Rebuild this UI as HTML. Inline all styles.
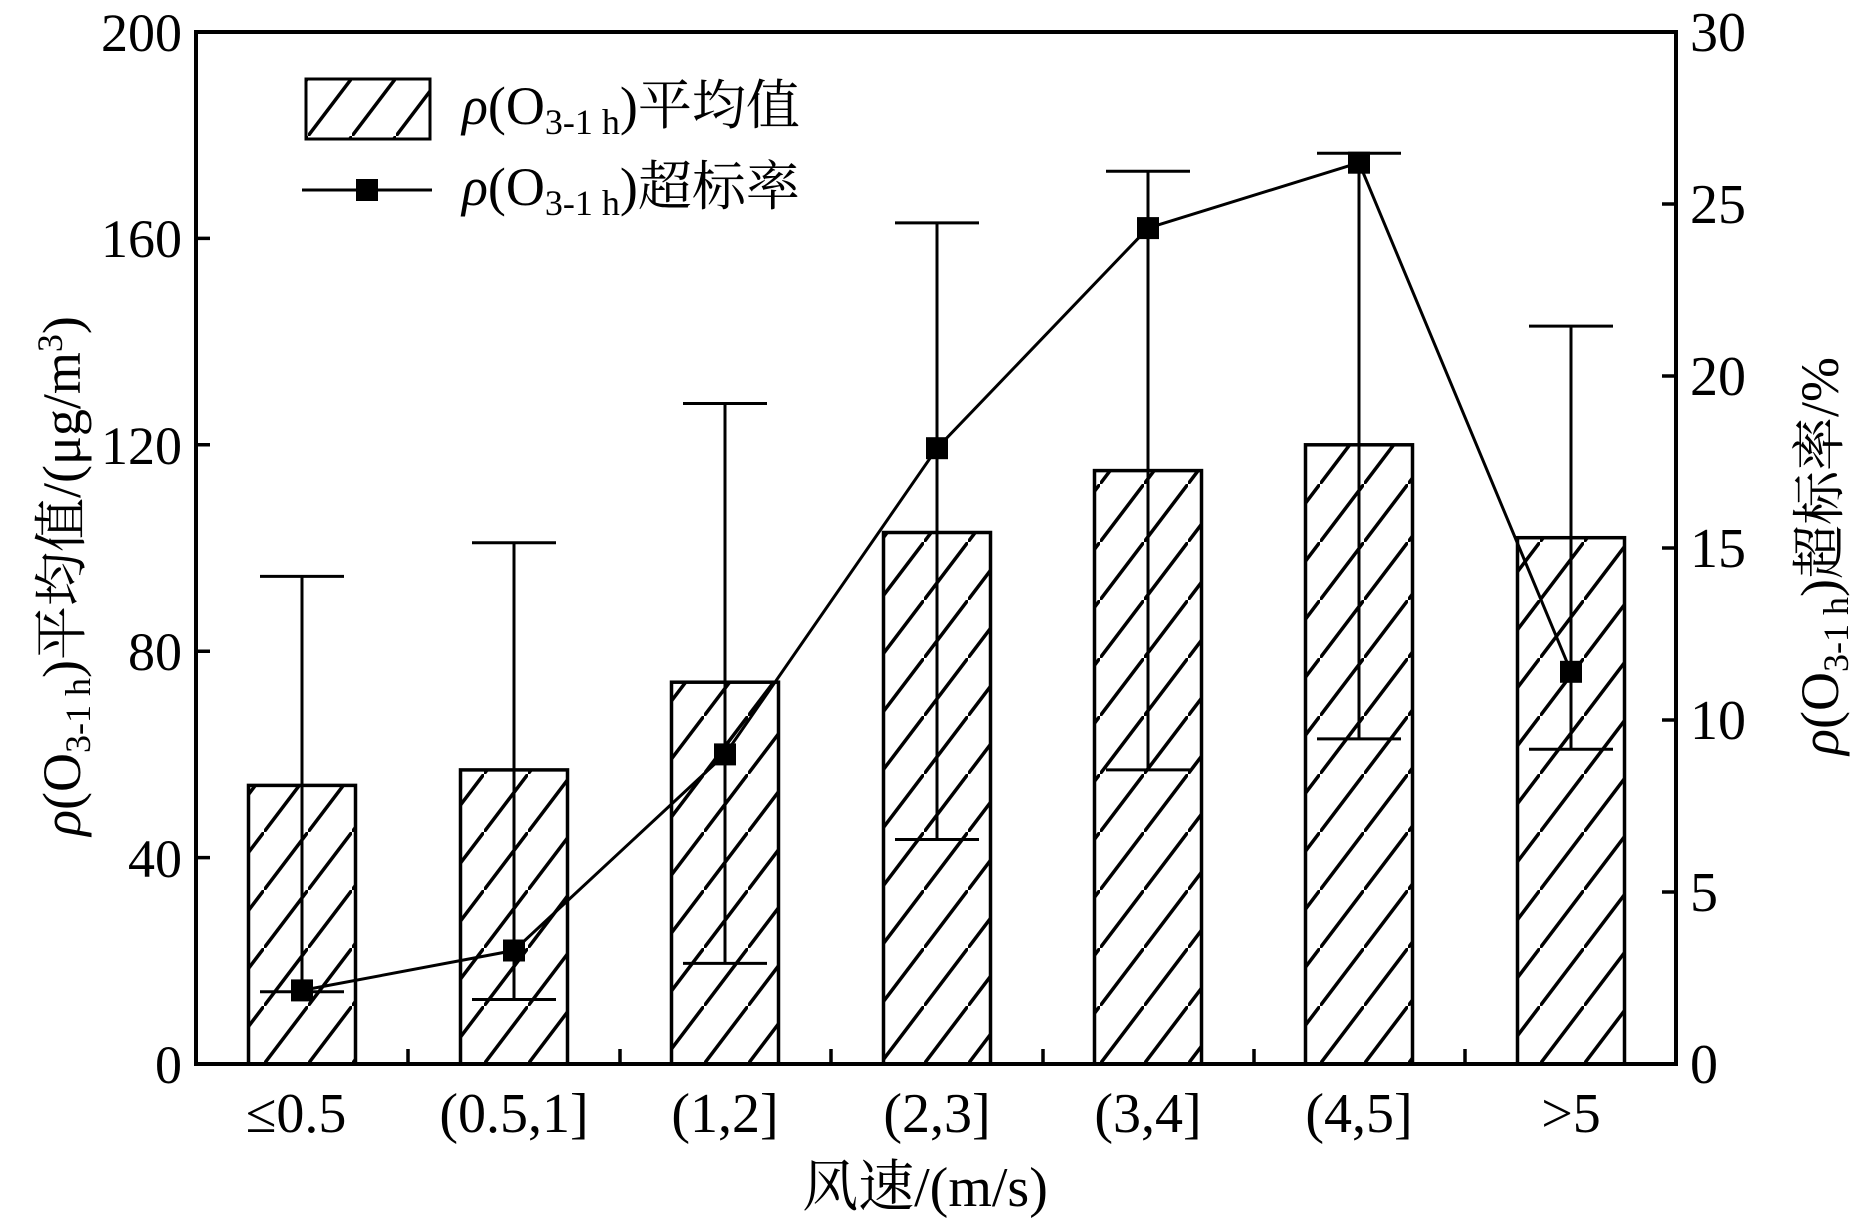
<!DOCTYPE html>
<html><head><meta charset="utf-8"><style>
body{margin:0;background:#fff}
svg text{font-family:"Liberation Serif","Noto Serif CJK SC","Noto Sans CJK SC",serif;fill:#000}
</style></head><body>
<svg width="1850" height="1221" viewBox="0 0 1850 1221" xmlns="http://www.w3.org/2000/svg">
<defs>
<pattern id="h" patternUnits="userSpaceOnUse" width="44" height="58" x="0" y="1064">
<line x1="-44" y1="116" x2="88" y2="-58" stroke="#000" stroke-width="3.5"/>
</pattern>
</defs>
<g stroke="#000" stroke-width="3.5">
<g fill="url(#h)">
<rect x="248.5" y="785.4" width="107" height="278.6"/>
<rect x="460.5" y="769.9" width="107" height="294.1"/>
<rect x="671.5" y="682.2" width="107" height="381.8"/>
<rect x="883.5" y="532.5" width="107" height="531.5"/>
<rect x="1094.5" y="470.6" width="107" height="593.4"/>
<rect x="1305.5" y="444.8" width="107" height="619.2"/>
<rect x="1517.5" y="537.7" width="107" height="526.3"/>
</g>
<g fill="none" stroke-width="3">
<path d="M302 576.4V991.8M260 576.4H344M260 991.8H344"/>
<path d="M514 542.8V999.5M472 542.8H556M472 999.5H556"/>
<path d="M725 403.5V963.4M683 403.5H767M683 963.4H767"/>
<path d="M937 222.9V839.5M895 222.9H979M895 839.5H979"/>
<path d="M1148 171.3V769.9M1106 171.3H1190M1106 769.9H1190"/>
<path d="M1359 153.3V738.9M1317 153.3H1401M1317 738.9H1401"/>
<path d="M1571 326.1V749.2M1529 326.1H1613M1529 749.2H1613"/>
</g>
<polyline fill="none" stroke-width="3" points="302,990.4 514,950.5 725,754.4 937,448.2 1148,228.1 1359,162.7 1571,671.8"/>
<g fill="#000" stroke="none">
<rect x="291" y="979.4" width="22" height="22"/>
<rect x="503" y="939.5" width="22" height="22"/>
<rect x="714" y="743.4" width="22" height="22"/>
<rect x="926" y="437.2" width="22" height="22"/>
<rect x="1137" y="217.1" width="22" height="22"/>
<rect x="1348" y="151.7" width="22" height="22"/>
<rect x="1560" y="660.8" width="22" height="22"/>
</g>
<rect x="196" y="32" width="1480" height="1032" fill="none" stroke-width="4"/>
<path d="M196 857.6H210M196 651.2H210M196 444.8H210M196 238.4H210"/>
<path d="M1676 892H1662M1676 720H1662M1676 548H1662M1676 376H1662M1676 204H1662"/>
<path d="M408 1064V1049M620 1064V1049M831 1064V1049M1043 1064V1049M1254 1064V1049M1465 1064V1049"/>
<rect x="306" y="79" width="124" height="60" fill="url(#h)" stroke-width="3"/>
<line x1="302" y1="190" x2="432" y2="190" stroke-width="3"/>
<rect x="356" y="179" width="22" height="22" fill="#000" stroke="none"/>
</g>
<g font-size="54" text-anchor="end">
<text x="182" y="51">200</text>
<text x="182" y="257">160</text>
<text x="182" y="464">120</text>
<text x="182" y="670">80</text>
<text x="182" y="877">40</text>
<text x="182" y="1083">0</text>
</g>
<g font-size="56" text-anchor="start">
<text x="1690" y="51">30</text>
<text x="1690" y="223">25</text>
<text x="1690" y="395">20</text>
<text x="1690" y="567">15</text>
<text x="1690" y="739">10</text>
<text x="1690" y="911">5</text>
<text x="1690" y="1083">0</text>
</g>
<g font-size="56" text-anchor="middle">
<text x="296" y="1132">≤0.5</text>
<text x="514" y="1132">(0.5,1]</text>
<text x="725" y="1132">(1,2]</text>
<text x="937" y="1132">(2,3]</text>
<text x="1148" y="1132">(3,4]</text>
<text x="1359" y="1132">(4,5]</text>
<text x="1571" y="1132">&gt;5</text>
<text x="925" y="1206">风速/(m/s)</text>
</g>
<g font-size="54">
<text x="462" y="124"><tspan font-style="italic">ρ</tspan>(O<tspan font-size="36" dy="10">3-1 h</tspan><tspan dy="-10">)平均值</tspan></text>
<text x="462" y="205"><tspan font-style="italic">ρ</tspan>(O<tspan font-size="36" dy="10">3-1 h</tspan><tspan dy="-10">)超标率</tspan></text>
</g>
<text font-size="54" text-anchor="middle" transform="translate(80,576) rotate(-90)"><tspan font-style="italic">ρ</tspan>(O<tspan font-size="36" dy="10">3-1 h</tspan><tspan dy="-10">)平均值/(μg/m</tspan><tspan font-size="36" dy="-18">3</tspan><tspan dy="18">)</tspan></text>
<text font-size="54" text-anchor="middle" transform="translate(1838,556) rotate(-90)"><tspan font-style="italic">ρ</tspan>(O<tspan font-size="36" dy="10">3-1 h</tspan><tspan dy="-10">)超标率/%</tspan></text>
</svg>
</body></html>
